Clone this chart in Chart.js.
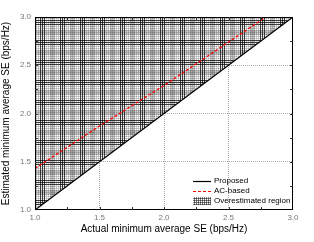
<!DOCTYPE html>
<html><head><meta charset="utf-8">
<script src="https://cdn.jsdelivr.net/npm/chart.js@4/dist/chart.umd.min.js"></script>
<style>html,body{margin:0;padding:0;background:#fff}#wrap{width:314px;height:242px}</style>
</head><body><div id="wrap"><canvas id="c" width="314" height="242"></canvas></div>
<script>
const tickValues = [1.0, 1.5, 2.0, 2.5, 3.0];
const proposedX = [1.0, 3.0];
const proposedY = [1.0, 3.0];
const acX = [1.0, 1.5, 2.0, 2.5, 2.79];
const acY = [1.43, 1.87, 2.29, 2.74, 3.0];
const legendLabels = ['Proposed', 'AC-based', 'Overestimated region'];
const xTitle = 'Actual minimum average SE (bps/Hz)';
const yTitle = 'Estimated minimum average SE (bps/Hz)';

// hatch texture profile (style only)
const profile = [0.75,0.05,0.75,0.05,0.75,0,0.18,0,0.18,0,0.3,0.2,0.3,0.2,0.3,0,0.18,0,0.18,0];
function makePattern(prof) {
  const n = prof.length;
  const t = document.createElement('canvas');
  t.width = n; t.height = n;
  const c = t.getContext('2d');
  const img = c.createImageData(n, n);
  for (let y = 0; y < n; y++) for (let x = 0; x < n; x++) {
    const d = 1 - (1 - prof[x]) * (1 - prof[y]);
    const v = Math.round(255 * (1 - d));
    const i = (y * n + x) * 4;
    img.data[i] = v; img.data[i + 1] = v; img.data[i + 2] = v; img.data[i + 3] = 255;
  }
  c.putImageData(img, 0, 0);
  return document.getElementById('c').getContext('2d').createPattern(t, 'repeat');
}
const hatch = makePattern(profile);
const legendHatch = makePattern([0.5,0,0.5,0]);

const framePlugin = {
  id: 'frame',
  afterDatasetsDraw(chart) {
    const {ctx, chartArea: a, scales} = chart;
    ctx.save();
    ctx.strokeStyle = '#000';
    ctx.lineWidth = 1;
    ctx.strokeRect(a.left + 0.5, a.top + 0.5, a.right - a.left - 1, a.bottom - a.top - 1);
    ctx.strokeStyle = '#333';
    ctx.beginPath();
    for (let v = 1.25; v < 3; v += 0.25) {
      const px = Math.round(scales.x.getPixelForValue(v)) + 0.5;
      ctx.moveTo(px, a.bottom); ctx.lineTo(px, a.bottom - 3);
      ctx.moveTo(px, a.top); ctx.lineTo(px, a.top + 3);
      const py = Math.round(scales.y.getPixelForValue(v)) + 0.5;
      ctx.moveTo(a.left, py); ctx.lineTo(a.left + 3, py);
      ctx.moveTo(a.right, py); ctx.lineTo(a.right - 3, py);
    }
    ctx.stroke();
    // legend
    const lx = a.right - 100, ly = a.bottom - 29;
    ctx.font = '8px "Liberation Sans", Arial, sans-serif';
    ctx.textBaseline = 'middle';
    ctx.fillStyle = '#000';
    ctx.strokeStyle = '#000';
    ctx.lineWidth = 1.2;
    ctx.setLineDash([]);
    ctx.beginPath(); ctx.moveTo(lx, ly + 0.5); ctx.lineTo(lx + 18, ly + 0.5); ctx.stroke();
    ctx.fillText(legendLabels[0], lx + 21, ly);
    ctx.strokeStyle = '#ff0000';
    ctx.setLineDash([3, 2]);
    ctx.beginPath(); ctx.moveTo(lx, ly + 10.5); ctx.lineTo(lx + 18, ly + 10.5); ctx.stroke();
    ctx.setLineDash([]);
    ctx.fillText(legendLabels[1], lx + 21, ly + 10);
    ctx.fillStyle = legendHatch;
    ctx.fillRect(lx, ly + 16, 18, 8);
    ctx.fillStyle = '#000';
    ctx.fillText(legendLabels[2], lx + 21, ly + 20);
    ctx.restore();
  }
};

const font = {family: '"Liberation Sans", Arial, sans-serif'};
const gridColor = ctx => (ctx.tick && (ctx.tick.value === 1 || ctx.tick.value === 3)) ? 'rgba(0,0,0,0)' : '#aaa';
new Chart(document.getElementById('c'), {
  type: 'scatter',
  data: {
    datasets: [
      {
        label: legendLabels[0],
        data: proposedX.map((x, i) => ({x, y: proposedY[i]})),
        showLine: true, borderColor: '#000', borderWidth: 1.2, pointRadius: 0,
        fill: 'end', backgroundColor: hatch, order: 2
      },
      {
        label: legendLabels[1],
        data: acX.map((x, i) => ({x, y: acY[i]})),
        showLine: true, borderColor: '#ff0000', borderWidth: 1.3, borderDash: [3, 2],
        pointRadius: 0, fill: false, order: 1
      }
    ]
  },
  plugins: [framePlugin],
  options: {
    responsive: false, animation: false,
    layout: {padding: {top: 17, right: 21, left: 0, bottom: 0}},
    plugins: {legend: {display: false}, tooltip: {enabled: false}},
    scales: {
      x: {
        type: 'linear', min: 1, max: 3,
        afterFit: s => { s.height = 32; },
        afterBuildTicks: s => { s.ticks = tickValues.map(v => ({value: v})); },
        ticks: {callback: v => v.toFixed(1), color: '#777', font: {...font, size: 8}, padding: 3, maxRotation: 0},
        grid: {color: gridColor, lineWidth: 1, tickLength: 0},
        border: {display: false, dash: [1, 1]},
        title: {display: true, text: xTitle, color: '#000', font: {...font, size: 10}, padding: {top: 0, bottom: 7}}
      },
      y: {
        type: 'linear', min: 1, max: 3,
        afterFit: s => { s.width = 35; },
        afterBuildTicks: s => { s.ticks = tickValues.map(v => ({value: v})); },
        ticks: {callback: v => v.toFixed(1), color: '#777', font: {...font, size: 8}, padding: 4},
        grid: {color: gridColor, lineWidth: 1, tickLength: 0},
        border: {display: false, dash: [1, 1]},
        title: {display: true, text: yTitle, color: '#000', font: {...font, size: 10}, padding: {top: 0, bottom: 2}}
      }
    }
  }
});
</script></body></html>
